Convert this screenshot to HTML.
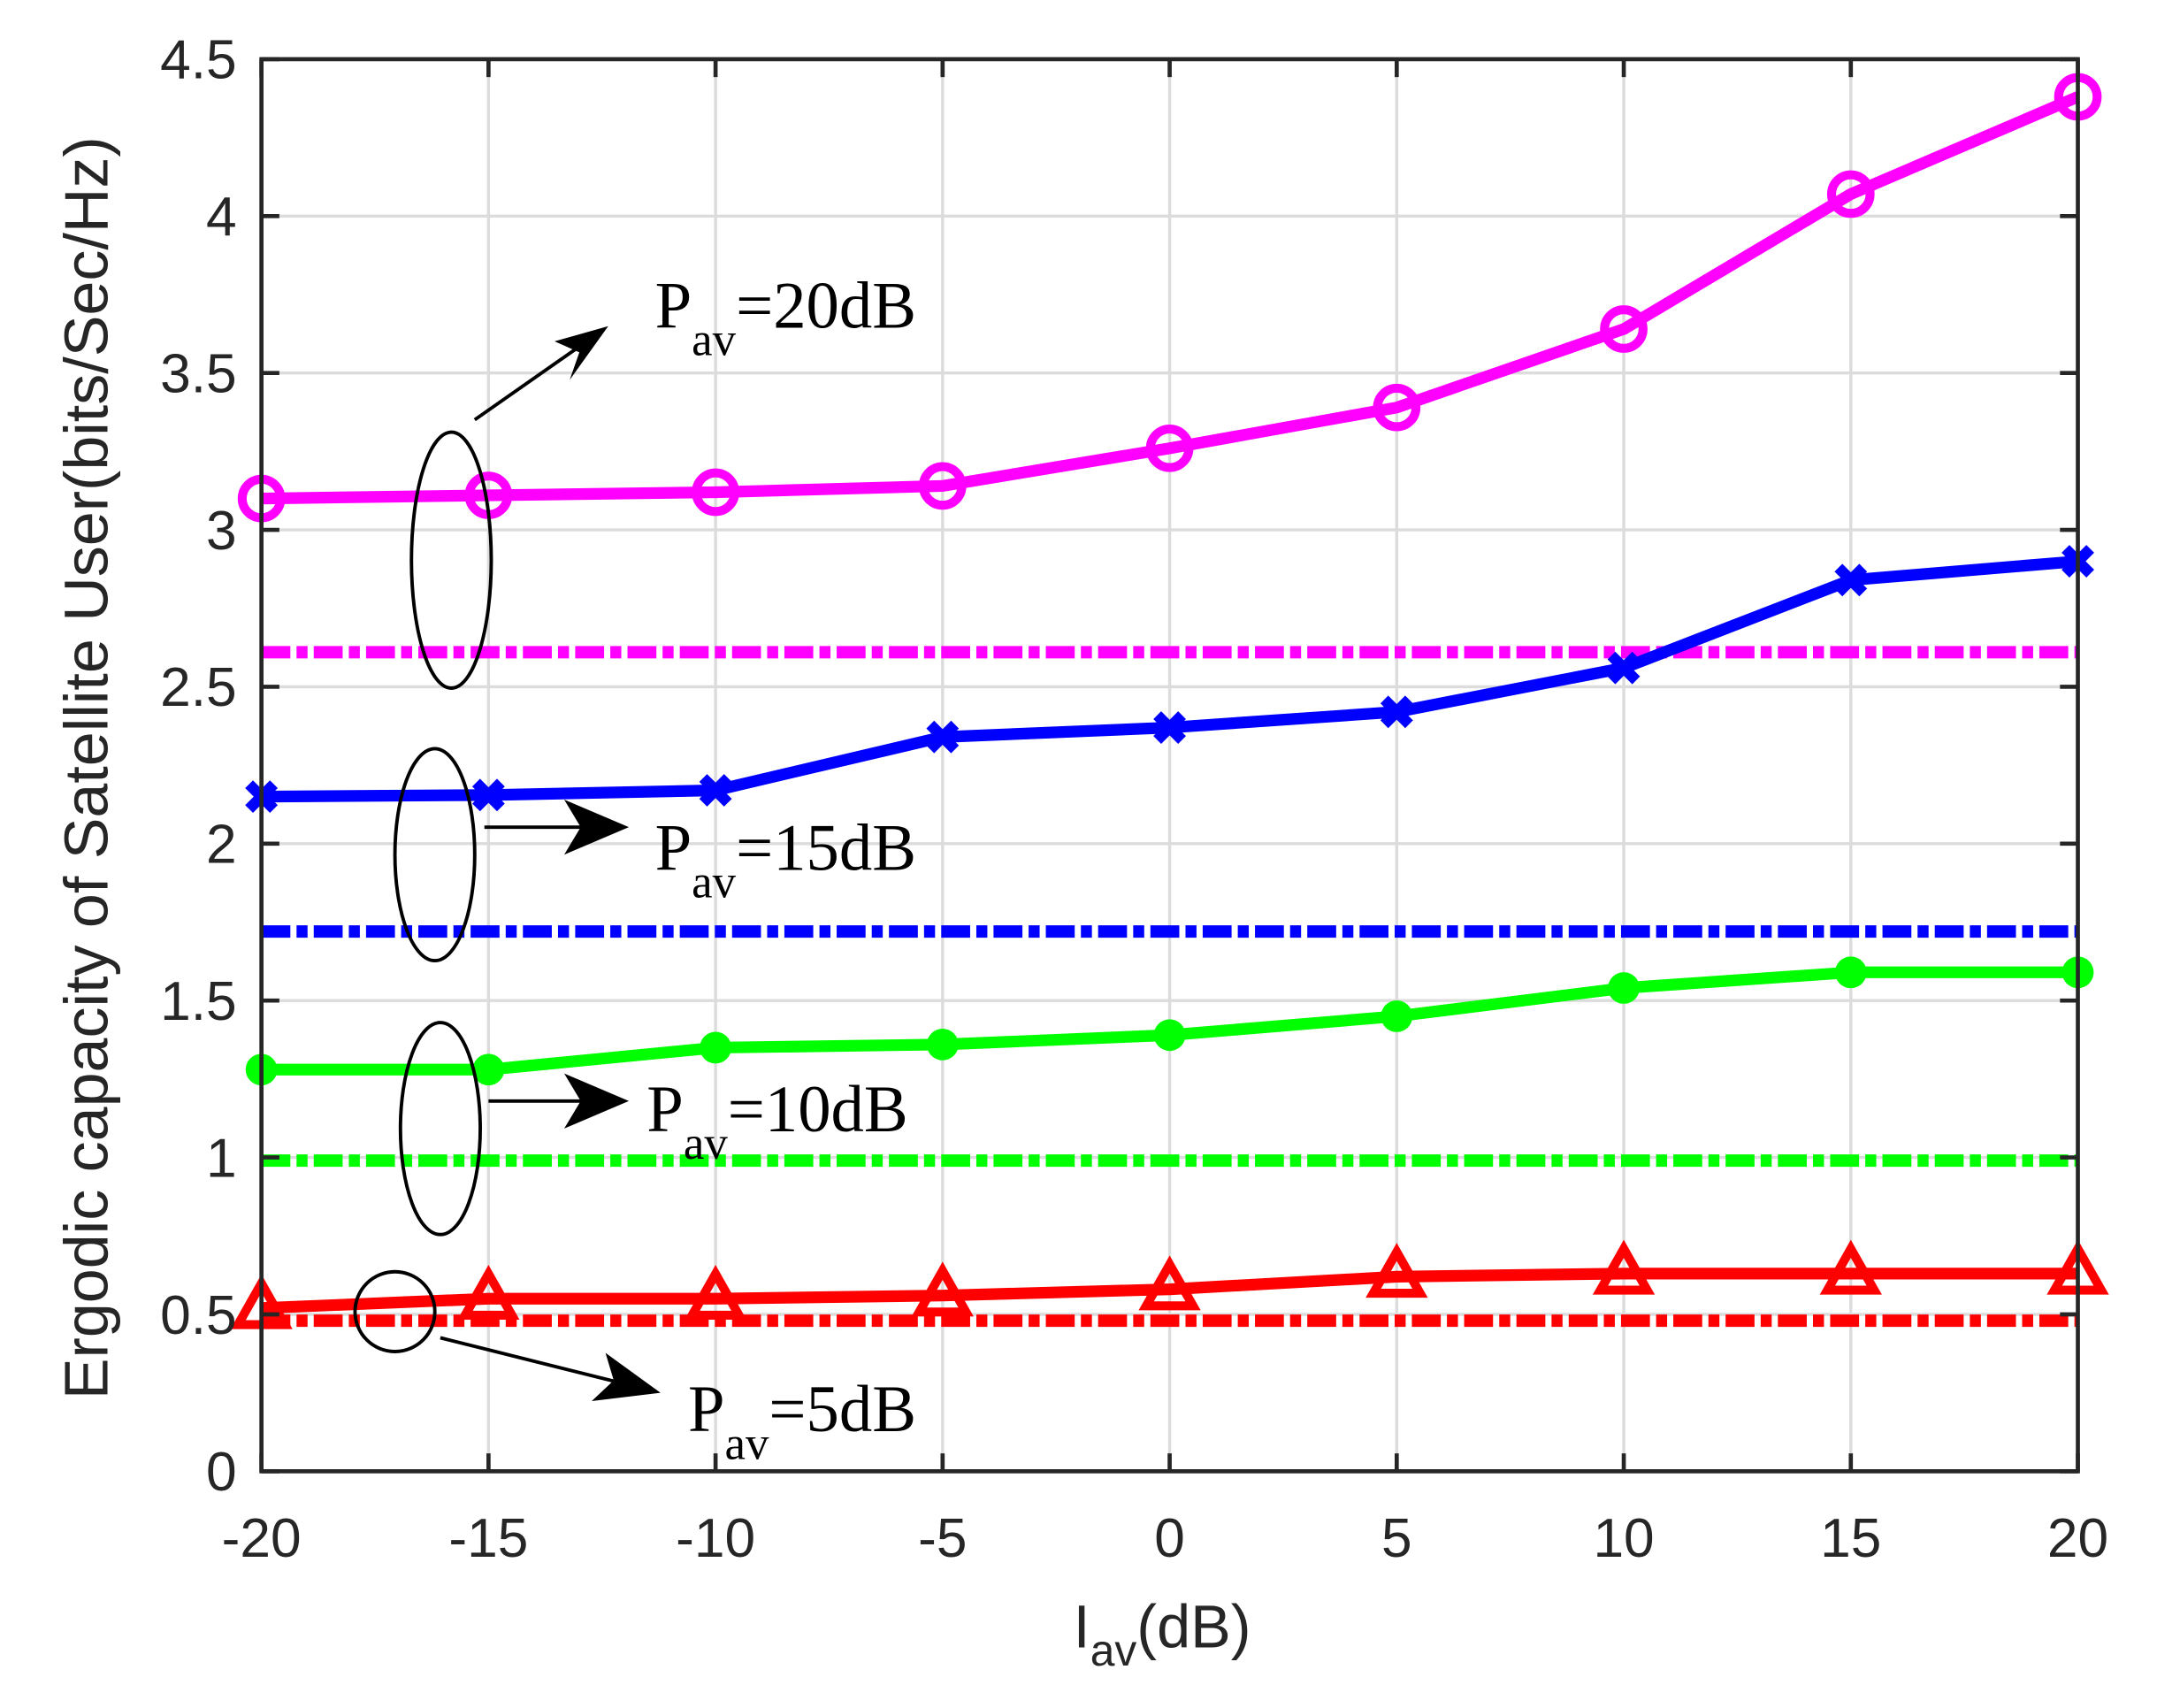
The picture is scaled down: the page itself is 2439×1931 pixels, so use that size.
<!DOCTYPE html>
<html><head><meta charset="utf-8"><style>
html,body{margin:0;padding:0;background:#fff;}
svg{display:block;}
text{font-family:"Liberation Sans",Arial,sans-serif;fill:#262626;}
.ser{font-family:"Liberation Serif","Times New Roman",serif;fill:#000;}
</style></head><body>
<svg id="chart" width="2439" height="1931" viewBox="0 0 1567.5 1241" preserveAspectRatio="none" xmlns="http://www.w3.org/2000/svg">
<g id="grid"></g>
<g id="series"></g>
<g id="axes"></g>
</svg>
<script>
const xValues = [-20,-15,-10,-5,0,5,10,15,20];
const xTicks = [-20,-15,-10,-5,0,5,10,15,20];
const yTicks = [0,0.5,1,1.5,2,2.5,3,3.5,4,4.5];
const yTickLabels = ['0','0.5','1','1.5','2','2.5','3','3.5','4','4.5'];
const pav20 = [3.10,3.11,3.12,3.14,3.26,3.39,3.64,4.07,4.38];
const pav15 = [2.15,2.155,2.17,2.34,2.37,2.42,2.56,2.84,2.90];
const pav10 = [1.28,1.28,1.35,1.36,1.39,1.45,1.54,1.59,1.59];
const pav5 = [0.52,0.55,0.55,0.56,0.58,0.62,0.63,0.63,0.63];
const baseline20 = 2.61;
const baseline15 = 1.72;
const baseline10 = 0.99;
const baseline5 = 0.48;

const NS='http://www.w3.org/2000/svg';
const L=190,R=1510,T=43,B=1069;
function sx(v){return L+(v+20)/40*(R-L);}
function sy(v){return B-v/4.5*(B-T);}
function mk(tag,attrs,parent){const e=document.createElementNS(NS,tag);for(const k in attrs)e.setAttribute(k,attrs[k]);parent.appendChild(e);return e;}
const grid=document.getElementById('grid'),ser=document.getElementById('series'),axes=document.getElementById('axes');

xTicks.forEach(t=>{
  const l=mk('line',{x1:sx(t),x2:sx(t),y1:T,y2:B,stroke:'#dcdcdc','stroke-width':2.2},grid);
  
  
});
yTicks.forEach(t=>{
  const l=mk('line',{x1:L,x2:R,y1:sy(t),y2:sy(t),stroke:'#dcdcdc','stroke-width':2.2},grid);
  
  
});

function hline(v,color,name){
  const l=mk('line',{x1:sx(-20),x2:sx(20),y1:sy(v),y2:sy(v),stroke:color,'stroke-width':9,'stroke-dasharray':'21 4.5 8 4.5'},ser);
  
  
}
hline(baseline20,'#ff00ff','baseline-pav-20');
hline(baseline15,'#0000ff','baseline-pav-15');
hline(baseline10,'#00ff00','baseline-pav-10');
hline(baseline5,'#ff0000','baseline-pav-5');

function series(vals,color,marker,name){
  const pts=vals.map((v,i)=>sx(xValues[i])+','+sy(v)).join(' ');
  const p=mk('polyline',{points:pts,fill:'none',stroke:color,'stroke-width':8.5,'stroke-linejoin':'round'},ser);
  
  
  vals.forEach((v,i)=>{
    const x=sx(xValues[i]),y=sy(v);let m;
    if(marker==='o'){m=mk('circle',{cx:x,cy:y,r:14,fill:'none',stroke:color,'stroke-width':6.5},ser);}
    else if(marker==='x'){m=mk('path',{d:`M${x-9},${y-9}L${x+9},${y+9}M${x-9},${y+9}L${x+9},${y-9}`,stroke:color,'stroke-width':8,fill:'none'},ser);}
    else if(marker==='.'){m=mk('circle',{cx:x,cy:y,r:11.5,fill:color},ser);}
    else {m=mk('polygon',{points:`${x},${y-18} ${x+17},${y+12} ${x-17},${y+12}`,fill:'none',stroke:color,'stroke-width':6.5,'stroke-linejoin':'miter'},ser);}
    
    
  });
}
series(pav20,'#ff00ff','o','pav-20');
series(pav15,'#0000ff','x','pav-15');
series(pav10,'#00ff00','.','pav-10');
series(pav5,'#ff0000','^','pav-5');

const box=mk('rect',{x:L,y:T,width:R-L,height:B-T,fill:'none',stroke:'#262626','stroke-width':3},axes);


xTicks.forEach(t=>{
  mk('line',{x1:sx(t),x2:sx(t),y1:B,y2:B-13,stroke:'#262626','stroke-width':3},axes);
  mk('line',{x1:sx(t),x2:sx(t),y1:T,y2:T+13,stroke:'#262626','stroke-width':3},axes);
  const tx=mk('text',{x:sx(t),y:B+62,'text-anchor':'middle','font-size':40},axes);
  tx.textContent=String(t);
  
  
});
yTicks.forEach((t,i)=>{
  mk('line',{x1:L,x2:L+13,y1:sy(t),y2:sy(t),stroke:'#262626','stroke-width':3},axes);
  mk('line',{x1:R,x2:R-13,y1:sy(t),y2:sy(t),stroke:'#262626','stroke-width':3},axes);
  const tx=mk('text',{x:L-18,y:sy(t)+14,'text-anchor':'end','font-size':40},axes);
  tx.textContent=yTickLabels[i];
  
  
});
</script>
<svg style="position:absolute;left:0;top:0" width="2439" height="1931" viewBox="0 0 1567.5 1241" preserveAspectRatio="none" xmlns="http://www.w3.org/2000/svg">
<text x="780" y="1197" font-size="44">I<tspan font-size="32" dy="13">av</tspan><tspan dy="-13">(dB)</tspan></text>
<text transform="translate(78,558) rotate(-90)" text-anchor="middle" font-size="45">Ergodic capacity of Satellite User(bits/Sec/Hz)</text>
<g fill="none" stroke="#000" stroke-width="2.5">
<ellipse cx="328" cy="407" rx="29" ry="93"/>
<ellipse cx="316" cy="621" rx="29" ry="77"/>
<ellipse cx="320" cy="820" rx="29" ry="77"/>
<circle cx="287" cy="953" r="29"/>
<line x1="345" y1="305" x2="425" y2="249"/>
<line x1="352" y1="601" x2="440" y2="601"/>
<line x1="355" y1="800" x2="440" y2="800"/>
<line x1="320" y1="972" x2="460" y2="1007"/>
</g>
<g fill="#000">
<polygon points="442,237 414,276 421,256 403,248"/>
<polygon points="457,601 410,621 422,601 410,581"/>
<polygon points="457,800 410,820 422,800 410,780"/>
<polygon points="480,1012 430,1018 446,1003 440,983"/>
</g>
<g class="ser">
<text class="ser" x="476" y="238" font-size="48">P<tspan font-size="34" dy="20">av</tspan><tspan dy="-20">=20dB</tspan></text>
<text class="ser" x="476" y="632" font-size="48">P<tspan font-size="34" dy="20">av</tspan><tspan dy="-20">=15dB</tspan></text>
<text class="ser" x="470" y="822" font-size="48">P<tspan font-size="34" dy="20">av</tspan><tspan dy="-20">=10dB</tspan></text>
<text class="ser" x="500" y="1040" font-size="48">P<tspan font-size="34" dy="20">av</tspan><tspan dy="-20">=5dB</tspan></text>
</g>
</svg>
</body></html>
